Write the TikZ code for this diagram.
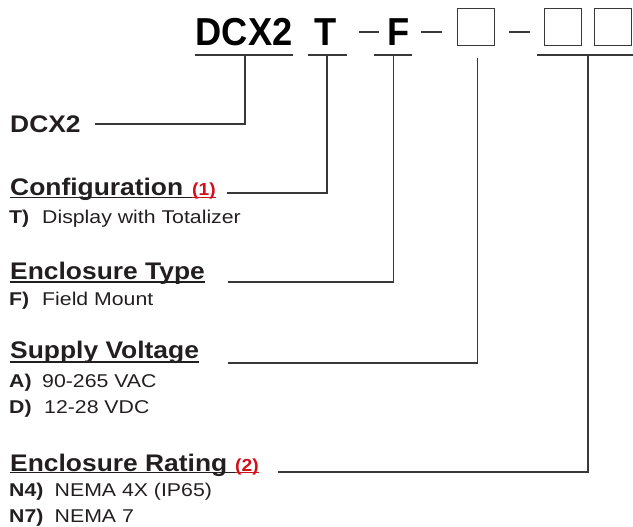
\documentclass[tikz,border=0pt]{standalone}
\usepackage{fontspec}
\setmainfont{Liberation Sans}
\newfontfamily\hfont[FakeStretch=1.1]{Liberation Sans}
\newfontfamily\ifont[FakeStretch=1.15]{Liberation Sans}
\newfontfamily\tfont[FakeStretch=0.93]{Liberation Sans}
\definecolor{txt}{HTML}{231F20}
\definecolor{linec}{HTML}{383838}
\definecolor{notered}{HTML}{D0101A}
\tikzset{
  conn/.style={draw=linec, line width=1.4pt},
  codebox/.style={draw=linec, line width=1.3pt, minimum width=37pt, minimum height=37pt, inner sep=0pt},
  title/.style={anchor=base west, inner sep=0pt, text=black, font={\tfont\bfseries\fontsize{39}{44}\selectfont}},
  head/.style={anchor=base west, inner sep=0pt, text=txt, font={\hfont\bfseries\fontsize{24}{28}\selectfont}},
  note/.style={anchor=base west, inner sep=0pt, text=notered, font={\hfont\bfseries\fontsize{17.5}{20}\selectfont}},
  item/.style={anchor=base west, inner sep=0pt, text=txt, font={\ifont\fontsize{18.5}{22}\selectfont}},
  uline/.style={draw=txt, line width=1.3pt},
  rline/.style={draw=notered, line width=1.3pt}
}
\newcommand{\codeA}[1]{\makebox[33pt][l]{\bfseries #1}}
\newcommand{\codeB}[1]{\makebox[45.5pt][l]{\bfseries #1}}
\begin{document}
\begin{tikzpicture}[x=1pt,y=-1pt]
\useasboundingbox (0,0) rectangle (633,527);
% ---- title row ----
\node[title] (tD) at (195.5,46) {DCX2};
\node[title] (tT) at (314,46) {T};
\node[title] (tF) at (387.5,46) {F};
\node[codebox] (b1) at (476,27) {};
\node[codebox] (b2) at (563,27) {};
\node[codebox] (b3) at (613,27) {};
% dashes
\coordinate (d1a) at (359,32); \coordinate (d1b) at (379,32);
\coordinate (d2a) at (421,32); \coordinate (d2b) at (442,32);
\coordinate (d3a) at (509,32); \coordinate (d3b) at (530,32);
\draw[conn] (d1a) -- (d1b);
\draw[conn] (d2a) -- (d2b);
\draw[conn] (d3a) -- (d3b);
% underlines of the code fields
\coordinate (uDa) at (195,55); \coordinate (uDb) at (293,55);
\coordinate (uTa) at (308,55); \coordinate (uTb) at (347,55);
\coordinate (uFa) at (374,55); \coordinate (uFb) at (412,55);
\coordinate (uBa) at (537,55); \coordinate (uBb) at (633,55);
\draw[conn] (uDa) -- (uDb);
\draw[conn] (uTa) -- (uTb);
\draw[conn] (uFa) -- (uFb);
\draw[conn] (uBa) -- (uBb);
% ---- left labels ----
\node[head] (hD) at (10,132) {DCX2};
\node[head] (hC) at (10,195) {Configuration};
\node[note] (n1) at (192,195) {(1)};
\node[item] (iT) at (9,223) {\codeA{T)}Display with Totalizer};
\node[head] (hE) at (10,279) {Enclosure Type};
\node[item] (iF) at (9,305) {\codeA{F)}Field Mount};
\node[head] (hS) at (10,358) {Supply Voltage};
\node[item] (iA) at (9,387) {\codeA{A)}90-265 VAC};
\node[item] (iDv) at (9,413) {\codeA{D)}\hspace{2pt}12-28 VDC};
\node[head] (hR) at (10,471) {Enclosure Rating};
\node[note] (n2) at (235,471) {(2)};
\node[item] (iN4) at (9,496) {\codeB{N4)}NEMA 4X (IP65)};
\node[item] (iN7) at (9,522) {\codeB{N7)}NEMA 7};
% heading underlines
\draw[uline] ([yshift=-2.5pt]hC.base west) -- ([yshift=-2.5pt]n1.base west);
\draw[rline] ([yshift=-2.5pt]n1.base west) -- ([yshift=-2.5pt]n1.base east);
\draw[uline] ([yshift=-3pt]hE.base west) -- ([yshift=-3pt]hE.base east);
\draw[uline] ([yshift=-4pt]hS.base west) -- ([yshift=-4pt]hS.base east);
\draw[uline] ([yshift=-1.5pt]hR.base west) -- ([yshift=-1.5pt]n2.base west);
\draw[rline] ([yshift=-1.5pt]n2.base west) -- ([yshift=-1.5pt]n2.base east);
% ---- connectors ----
\coordinate (jD) at (245,55);  \coordinate (eD) at (95,124);
\coordinate (jT) at (327,55);  \coordinate (eC) at (227,193);
\coordinate (jF) at (393.5,55); \coordinate (eE) at (228,282);
\coordinate (jB1) at (477.5,58); \coordinate (eS) at (228,363);
\coordinate (jB) at (588,55); \coordinate (eR) at (278,472);
\draw[conn] (jD) |- (eD);
\draw[conn] (jT) |- (eC);
\draw[conn] (jF) |- (eE);
\draw[conn] (jB1) |- (eS);
\draw[conn] (jB) |- (eR);
\end{tikzpicture}
\end{document}
